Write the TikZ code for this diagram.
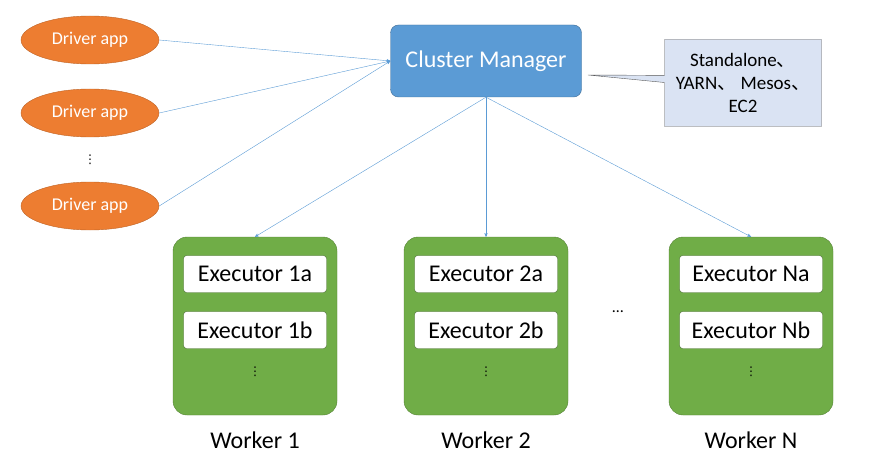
\documentclass[tikz,border=0pt]{standalone}
\usepackage{fontspec}
\setmainfont{Carlito}
\newfontfamily\cjk{Noto Sans CJK SC}
\newfontfamily\symb{DejaVu Sans}
\usetikzlibrary{arrows,shapes.geometric,shapes.callouts}
\definecolor{drvorange}{RGB}{237,125,49}
\definecolor{mgrblue}{RGB}{91,155,213}
\definecolor{wkgreen}{RGB}{112,173,71}
\definecolor{notefill}{RGB}{218,227,243}
\definecolor{linkblue}{RGB}{91,155,213}
\begin{document}
\begin{tikzpicture}[x=1pt,y=-1pt,>=stealth',
		driver node/.style={ellipse,fill=drvorange,draw=drvorange!80!black,minimum width=138pt,minimum height=48pt,text=white,font=\fontsize{18}{20}\selectfont},
		worker node/.style={rounded corners=14pt,fill=wkgreen,draw=wkgreen!75!black,minimum width=164pt,minimum height=178pt},
		exec node/.style={rounded corners=3pt,fill=white,draw=wkgreen!60!black,minimum width=143pt,minimum height=37pt,font=\fontsize{24}{26}\selectfont},
		dots node/.style={inner sep=0pt,font=\symb\fontsize{12}{12}\selectfont},
		link/.style={->,draw=linkblue,thin}]
	\useasboundingbox (0,0) rectangle (870,468);
	\node[driver node] (d1) at (90,40) {Driver app};
	\node[driver node] (d2) at (90,113) {Driver app};
	\node[driver node] (d3) at (90,206) {Driver app};
	\node[dots node] (v0) at (90,160) {⋮};
	%
	% Cluster manager and its note.
	\node[rounded corners=8pt,fill=mgrblue,draw=mgrblue!70!black,minimum width=191pt,minimum height=72pt,text=white,font=\fontsize{24}{26}\selectfont] (cm) at (486,61) {Cluster Manager};
	\node[rectangle callout,fill=notefill,draw=gray!70!black,minimum width=157pt,minimum height=87pt,align=center,font=\fontsize{19}{23}\selectfont,callout absolute pointer={(588,75)}] (note) at (743,83) {Standalone{\cjk 、}\\YARN{\cjk 、} Mesos{\cjk 、}\\EC2};
	%
	% Workers with their executors.
	\foreach \i/\x/\n in {1/255/1,2/486/2,3/751/N} {
		\node[worker node] (w\i) at (\x,326) {};
		\node[exec node] (e\i a) at (\x,274) {Executor \n a};
		\node[exec node] (e\i b) at (\x,330) {Executor \n b};
		\node[dots node] (v\i) at (\x,372) {⋮};
		\node[font=\fontsize{24}{26}\selectfont] (l\i) at (\x,440) {Worker \n};
	}
	\node[font=\fontsize{16}{16}\selectfont] (hdots) at (618,312) {\dots};
	%
	\draw[link] (d1.east) -- (cm.west);
	\draw[link] (d2.east) -- (cm.west);
	\draw[link] (d3.east) -- (cm.west);
	\draw[link] (cm.south) -- (w1.north);
	\draw[link] (cm.south) -- (w2.north);
	\draw[link] (cm.south) -- (w3.north);
\end{tikzpicture}
\end{document}
